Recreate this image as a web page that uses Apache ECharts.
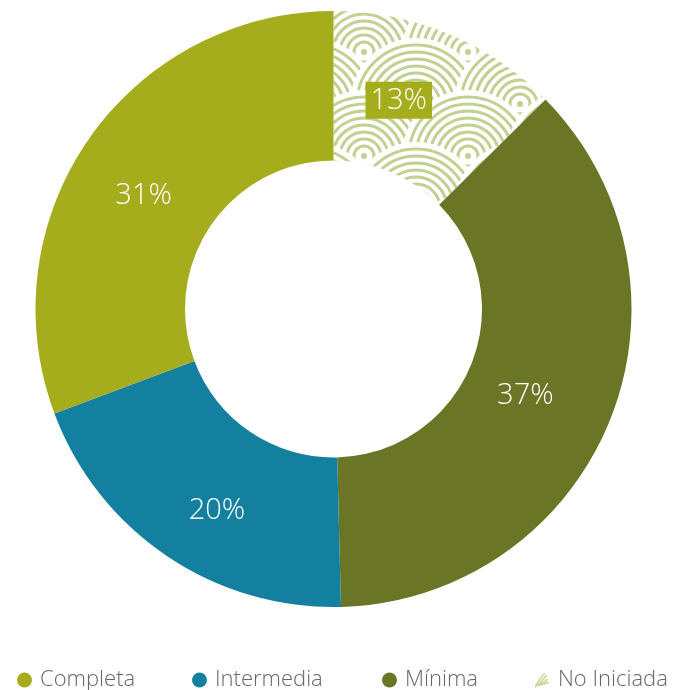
<!DOCTYPE html>
<html>
<head>
<meta charset="utf-8">
<script src="https://cdn.jsdelivr.net/npm/echarts@6/dist/echarts.min.js"></script>
<style>
html,body{margin:0;padding:0;background:#fff;}
#c{width:673px;height:690px;}
</style>
</head>
<body>
<div id="c"></div>
<script>
// Data (clockwise from 12 o'clock)
const categories = ['No Iniciada', 'Mínima', 'Intermedia', 'Completa'];
const values = [12.6, 37.0, 19.7, 30.7];
const legendOrder = ['Completa', 'Intermedia', 'Mínima', 'No Iniciada'];

const colors = {
  'Completa': '#a5ad1d',
  'Intermedia': '#1480a0',
  'Mínima': '#6a7526',
  'No Iniciada': '#bfcf8c'
};

// wave / seigaiha pattern tile
function makePattern() {
  const W = 104, H = 104;
  const cv = document.createElement('canvas');
  cv.width = W; cv.height = H;
  const ctx = cv.getContext('2d');
  ctx.fillStyle = '#fff';
  ctx.fillRect(0, 0, W, H);
  const rowH = 52, colW = 104, R = 66;
  for (let r = -3; r <= 4; r++) {
    const y = r * rowH;
    const off = (Math.abs(r) % 2) * 52;
    for (let c = -2; c <= 2; c++) {
      const x = c * colW + off;
      ctx.beginPath();
      ctx.arc(x, y, R, 0, Math.PI * 2);
      ctx.fillStyle = '#fff';
      ctx.fill();
      ctx.strokeStyle = '#c2d192';
      ctx.lineWidth = 3;
      for (let rad = 10; rad <= R - 2; rad += 7) {
        ctx.beginPath();
        ctx.arc(x, y, rad, 0, Math.PI * 2);
        ctx.stroke();
      }
      ctx.beginPath();
      ctx.arc(x, y, 3, 0, Math.PI * 2);
      ctx.fillStyle = '#c2d192';
      ctx.fill();
    }
  }
  return cv;
}

function makeLegendIcon() {
  const cv = document.createElement('canvas');
  cv.width = 16; cv.height = 16;
  const ctx = cv.getContext('2d');
  ctx.strokeStyle = '#c3d48c';
  ctx.lineWidth = 1.6;
  for (let i = 0; i < 4; i++) {
    const o = i * 4 - 2;
    ctx.beginPath();
    ctx.moveTo(1 + o * 0.5, 14 - o * 0.2 + 1);
    ctx.quadraticCurveTo(6 + o, 8 + o * 0.2, 14 + o * 0.2 - 2, 1 + o);
    ctx.stroke();
  }
  return cv.toDataURL();
}

const labelOffsets = {
  'No Iniciada': [-22, 0],
  'Mínima': [-18, 2],
  'Intermedia': [10, 14],
  'Completa': [-4, 16]
};

const pattern = makePattern();
const seriesData = categories.map((name, i) => {
  const item = {
    name: name,
    value: values[i],
    itemStyle: { color: name === 'No Iniciada' ? { image: pattern, repeat: 'repeat' } : colors[name] },
    label: { offset: labelOffsets[name] }
  };
  if (name === 'No Iniciada') {
    item.label.backgroundColor = '#a5ad1d';
    item.label.padding = [5, 5, 3, 5];
  }
  return item;
});

const legendLefts = [17, 192, 382, 535];
const iconImg = makeLegendIcon();
const legends = legendOrder.map((name, i) => ({
  left: legendLefts[i],
  top: 669,
  padding: 0,
  orient: 'horizontal',
  itemWidth: 15,
  itemHeight: 15,
  itemGap: 0,
  selectedMode: false,
  data: [{
    name: name,
    icon: name === 'No Iniciada' ? 'image://' + iconImg : 'circle',
    itemStyle: name === 'No Iniciada' ? {} : { color: colors[name] }
  }],
  textStyle: {
    fontSize: 22,
    color: '#666',
    fontFamily: 'Open Sans',
    fontWeight: 300,
    padding: [0, 0, 0, 3]
  }
}));

const chart = echarts.init(document.getElementById('c'), null, { renderer: 'canvas' });
chart.setOption({
  animation: false,
  backgroundColor: '#fff',
  legend: legends,
  series: [{
    type: 'pie',
    center: [333.5, 309],
    radius: [148.5, 298],
    startAngle: 90,
    clockwise: true,
    avoidLabelOverlap: false,
    labelLine: { show: false },
    emphasis: { disabled: true },
    label: {
      show: true,
      position: 'inside',
      color: '#fff',
      fontSize: 29,
      fontFamily: 'Open Sans',
      fontWeight: 300,
      formatter: p => Math.round(p.value) + '%'
    },
    data: seriesData
  }]
});
</script>
</body>
</html>
